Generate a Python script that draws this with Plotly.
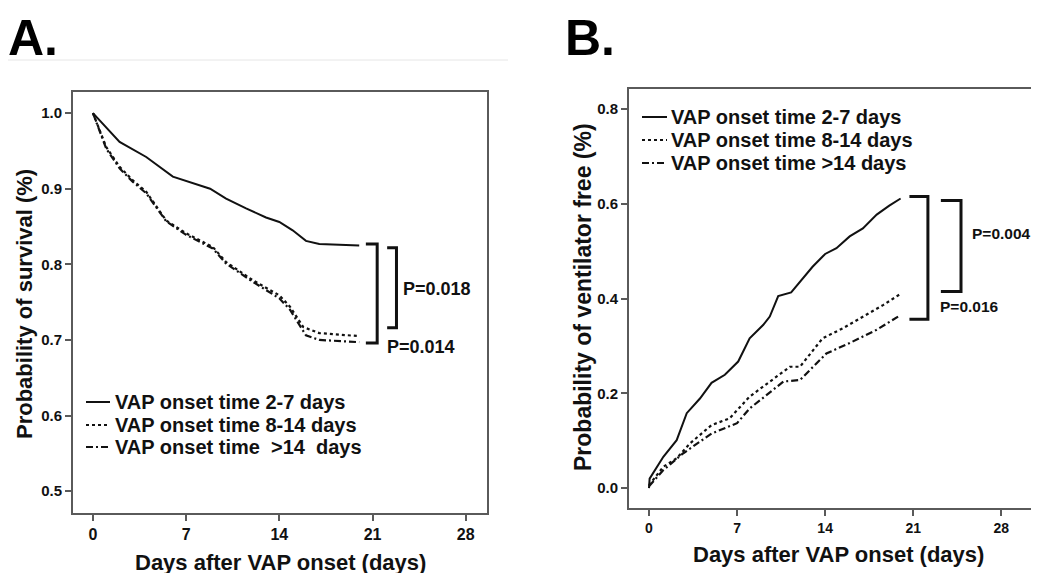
import plotly.graph_objects as go

# The page body adds an 8px margin, so the figure is drawn 8px in from the window corner.
OFF = 8
W, H = 1039 - OFF, 573 - OFF

# ---------------- Panel A: survival ----------------
a_days_early = [0, 2.0, 4.0, 6.0, 8.8, 10.0, 11.5, 13.0, 14.0, 15.0, 16.0, 17.0, 20.0]
a_surv_early = [1.0, 0.962, 0.942, 0.916, 0.900, 0.887, 0.874, 0.862, 0.856, 0.845, 0.831, 0.827, 0.825]

a_days_mid = [0, 1.0, 2.0, 3.0, 4.0, 5.5, 7.0, 9.0, 10.0, 12.0, 14.0, 14.8, 15.8, 17.0, 20.0]
a_surv_mid = [1.0, 0.955, 0.929, 0.911, 0.896, 0.858, 0.841, 0.823, 0.803, 0.779, 0.759, 0.744, 0.717, 0.709, 0.705]

a_days_late = [0, 1.0, 2.0, 3.0, 4.0, 5.5, 7.0, 9.0, 10.0, 12.0, 14.0, 14.8, 16.0, 17.0, 20.0]
a_surv_late = [1.0, 0.953, 0.927, 0.909, 0.894, 0.857, 0.839, 0.821, 0.801, 0.777, 0.755, 0.740, 0.706, 0.700, 0.697]

# ---------------- Panel B: ventilator free ----------------
b_days_early = [0, 0.05, 1.14, 2.2, 3.0, 4.05, 4.97, 6.03, 7.09, 8.0, 9.07, 9.6, 10.27, 11.3, 13.0, 14.0, 14.9, 15.95, 17.0, 18.1, 19.1, 20.0]
b_free_early = [0.0, 0.02, 0.066, 0.101, 0.158, 0.189, 0.222, 0.239, 0.267, 0.316, 0.344, 0.362, 0.405, 0.413, 0.467, 0.494, 0.506, 0.531, 0.548, 0.577, 0.596, 0.611]

b_days_mid = [0, 1.14, 2.2, 3.25, 4.97, 6.4, 8.0, 9.6, 11.2, 12.0, 13.8, 15.4, 17.0, 18.6, 20.0]
b_free_mid = [0.006, 0.045, 0.063, 0.094, 0.133, 0.147, 0.193, 0.225, 0.256, 0.256, 0.316, 0.337, 0.362, 0.386, 0.410]

b_days_late = [0, 1.14, 2.7, 4.97, 7.0, 8.0, 10.7, 12.0, 14.1, 15.95, 18.1, 20.0]
b_free_late = [0.004, 0.038, 0.073, 0.115, 0.137, 0.168, 0.225, 0.228, 0.284, 0.306, 0.334, 0.365]

x_ticks = [0, 7, 14, 21, 28]
a_y_ticks = [0.5, 0.6, 0.7, 0.8, 0.9, 1.0]
b_y_ticks = [0.0, 0.2, 0.4, 0.6, 0.8]

names_a = ["VAP onset time 2-7 days", "VAP onset time 8-14 days", "VAP onset time  >14  days"]
names_b = ["VAP onset time 2-7 days", "VAP onset time 8-14 days", "VAP onset time >14 days"]

# brackets: (x_left, x_right, y_top, y_bottom)
a_brackets = [(20.5, 21.35, 0.827, 0.696), (22.1, 22.8, 0.822, 0.716)]
a_pvals = [("P=0.014", 21.9, 0.690), ("P=0.018", 23.15, 0.768)]
b_brackets = [(20.7, 22.17, 0.615, 0.356), (23.2, 24.8, 0.607, 0.415)]
b_pvals = [("P=0.016", 22.96, 0.384), ("P=0.004", 25.5, 0.538)]

FONT = "Liberation Sans"
INK = "#111111"
dashes = ["solid", "dot", "7px,3px,2px,3px"]
widths = [2, 2.2, 2.2]


def px_x(p):
    return (p - OFF) / W


def px_y(p):
    return 1 - (p - OFF) / H


fig = go.Figure()

for i, (xs, ys) in enumerate([(a_days_early, a_surv_early), (a_days_mid, a_surv_mid), (a_days_late, a_surv_late)]):
    fig.add_trace(go.Scatter(x=xs, y=ys, mode="lines", name=names_a[i], showlegend=False,
                             line=dict(color=INK, width=widths[i], dash=dashes[i]),
                             xaxis="x", yaxis="y"))

for i, (xs, ys) in enumerate([(b_days_early, b_free_early), (b_days_mid, b_free_mid), (b_days_late, b_free_late)]):
    fig.add_trace(go.Scatter(x=xs, y=ys, mode="lines", name=names_b[i], showlegend=False,
                             line=dict(color=INK, width=widths[i], dash=dashes[i]),
                             xaxis="x2", yaxis="y2"))


def add_brackets(brs, xa, ya):
    for (xl, xr, yt, yb) in brs:
        fig.add_trace(go.Scatter(x=[xl, xr, xr, xl], y=[yt, yt, yb, yb], mode="lines",
                                 line=dict(color=INK, width=3), showlegend=False,
                                 hoverinfo="skip", xaxis=xa, yaxis=ya))


add_brackets(a_brackets, "x", "y")
add_brackets(b_brackets, "x2", "y2")

annotations = []
shapes = []

for (txt, x, y) in a_pvals:
    annotations.append(dict(text=txt, x=x, y=y, xref="x", yref="y", xanchor="left", yanchor="middle",
                            showarrow=False, font=dict(family=FONT, size=18, color=INK, weight="bold")))
for (txt, x, y) in b_pvals:
    annotations.append(dict(text=txt, x=x, y=y, xref="x2", yref="y2", xanchor="left", yanchor="middle",
                            showarrow=False, font=dict(family=FONT, size=15.5, color=INK, weight="bold")))


# custom legends (line sample + label)
def add_legend(names, x_line0, x_line1, x_text, ys):
    for i, (nm, yy) in enumerate(zip(names, ys)):
        shapes.append(dict(type="line", xref="paper", yref="paper",
                           x0=px_x(x_line0), x1=px_x(x_line1), y0=px_y(yy), y1=px_y(yy),
                           line=dict(color=INK, width=widths[i], dash=dashes[i])))
        annotations.append(dict(text=nm, x=px_x(x_text), y=px_y(yy), xref="paper", yref="paper",
                                xanchor="left", yanchor="middle", showarrow=False,
                                font=dict(family=FONT, size=20, color=INK, weight="bold")))


add_legend(names_a, 86, 110, 113, [402, 425, 447])
add_legend(names_b, 642, 667, 669, [117, 140, 163])

# panel letters
annotations.append(dict(text="A.", x=px_x(6), y=px_y(8), xref="paper", yref="paper", xanchor="left",
                        yanchor="top", showarrow=False,
                        font=dict(family=FONT, size=50, color="#000000", weight="bold")))
annotations.append(dict(text="B.", x=px_x(563), y=px_y(8), xref="paper", yref="paper", xanchor="left",
                        yanchor="top", showarrow=False,
                        font=dict(family=FONT, size=50, color="#000000", weight="bold")))

# axis titles
annotations += [
    dict(text="Probability of survival (%)", x=px_x(24), y=px_y(304), xref="paper", yref="paper",
         textangle=-90, showarrow=False, xanchor="center", yanchor="middle",
         font=dict(family=FONT, size=22, color=INK, weight="bold")),
    dict(text="Days after VAP onset (days)", x=px_x(280), y=px_y(562), xref="paper", yref="paper",
         showarrow=False, xanchor="center", yanchor="middle",
         font=dict(family=FONT, size=22, color=INK, weight="bold")),
    dict(text="Probability of ventilator free (%)", x=px_x(583), y=px_y(297), xref="paper", yref="paper",
         textangle=-90, showarrow=False, xanchor="center", yanchor="middle",
         font=dict(family=FONT, size=23, color=INK, weight="bold")),
    dict(text="Days after VAP onset (days)", x=px_x(838), y=px_y(554), xref="paper", yref="paper",
         showarrow=False, xanchor="center", yanchor="middle",
         font=dict(family=FONT, size=22, color=INK, weight="bold")),
]

shapes.append(dict(type="line", xref="paper", yref="paper", x0=px_x(3), x1=px_x(508), y0=px_y(60),
                   y1=px_y(60), line=dict(color="#e6e6e6", width=1)))

AX_COL = "#5a5a5a"
common = dict(showgrid=False, zeroline=False, showline=True, linecolor=AX_COL, linewidth=1.8,
              ticks="outside", ticklen=6, tickwidth=1.5, tickcolor=AX_COL, automargin=False)

fig.update_layout(
    width=W, height=H, margin=dict(l=0, r=0, t=0, b=0),
    paper_bgcolor="white", plot_bgcolor="white",
    showlegend=False,
    annotations=annotations, shapes=shapes,
    xaxis=dict(domain=[px_x(73), px_x(487)], range=[-1.5, 29.6], tickvals=x_ticks, mirror=True,
               anchor="y", tickfont=dict(family=FONT, size=16, color=INK, weight="bold"), **common),
    yaxis=dict(domain=[px_y(513), px_y(92)], range=[0.471, 1.028], tickvals=a_y_ticks,
               ticktext=[f"{v:.1f}" for v in a_y_ticks], mirror=True, anchor="x",
               tickfont=dict(family=FONT, size=15, color=INK, weight="bold"), **common),
    xaxis2=dict(domain=[px_x(629), 1.0], range=[-1.59, 31.0], tickvals=x_ticks, mirror=True,
                anchor="y2", tickfont=dict(family=FONT, size=14, color=INK, weight="bold"), **common),
    yaxis2=dict(domain=[px_y(508), px_y(89)], range=[-0.042, 0.842], tickvals=b_y_ticks,
                ticktext=[f"{v:.1f}" for v in b_y_ticks], mirror=False, anchor="x2",
                tickfont=dict(family=FONT, size=15, color=INK, weight="bold"), **common),
)

fig.write_html("out.html")
